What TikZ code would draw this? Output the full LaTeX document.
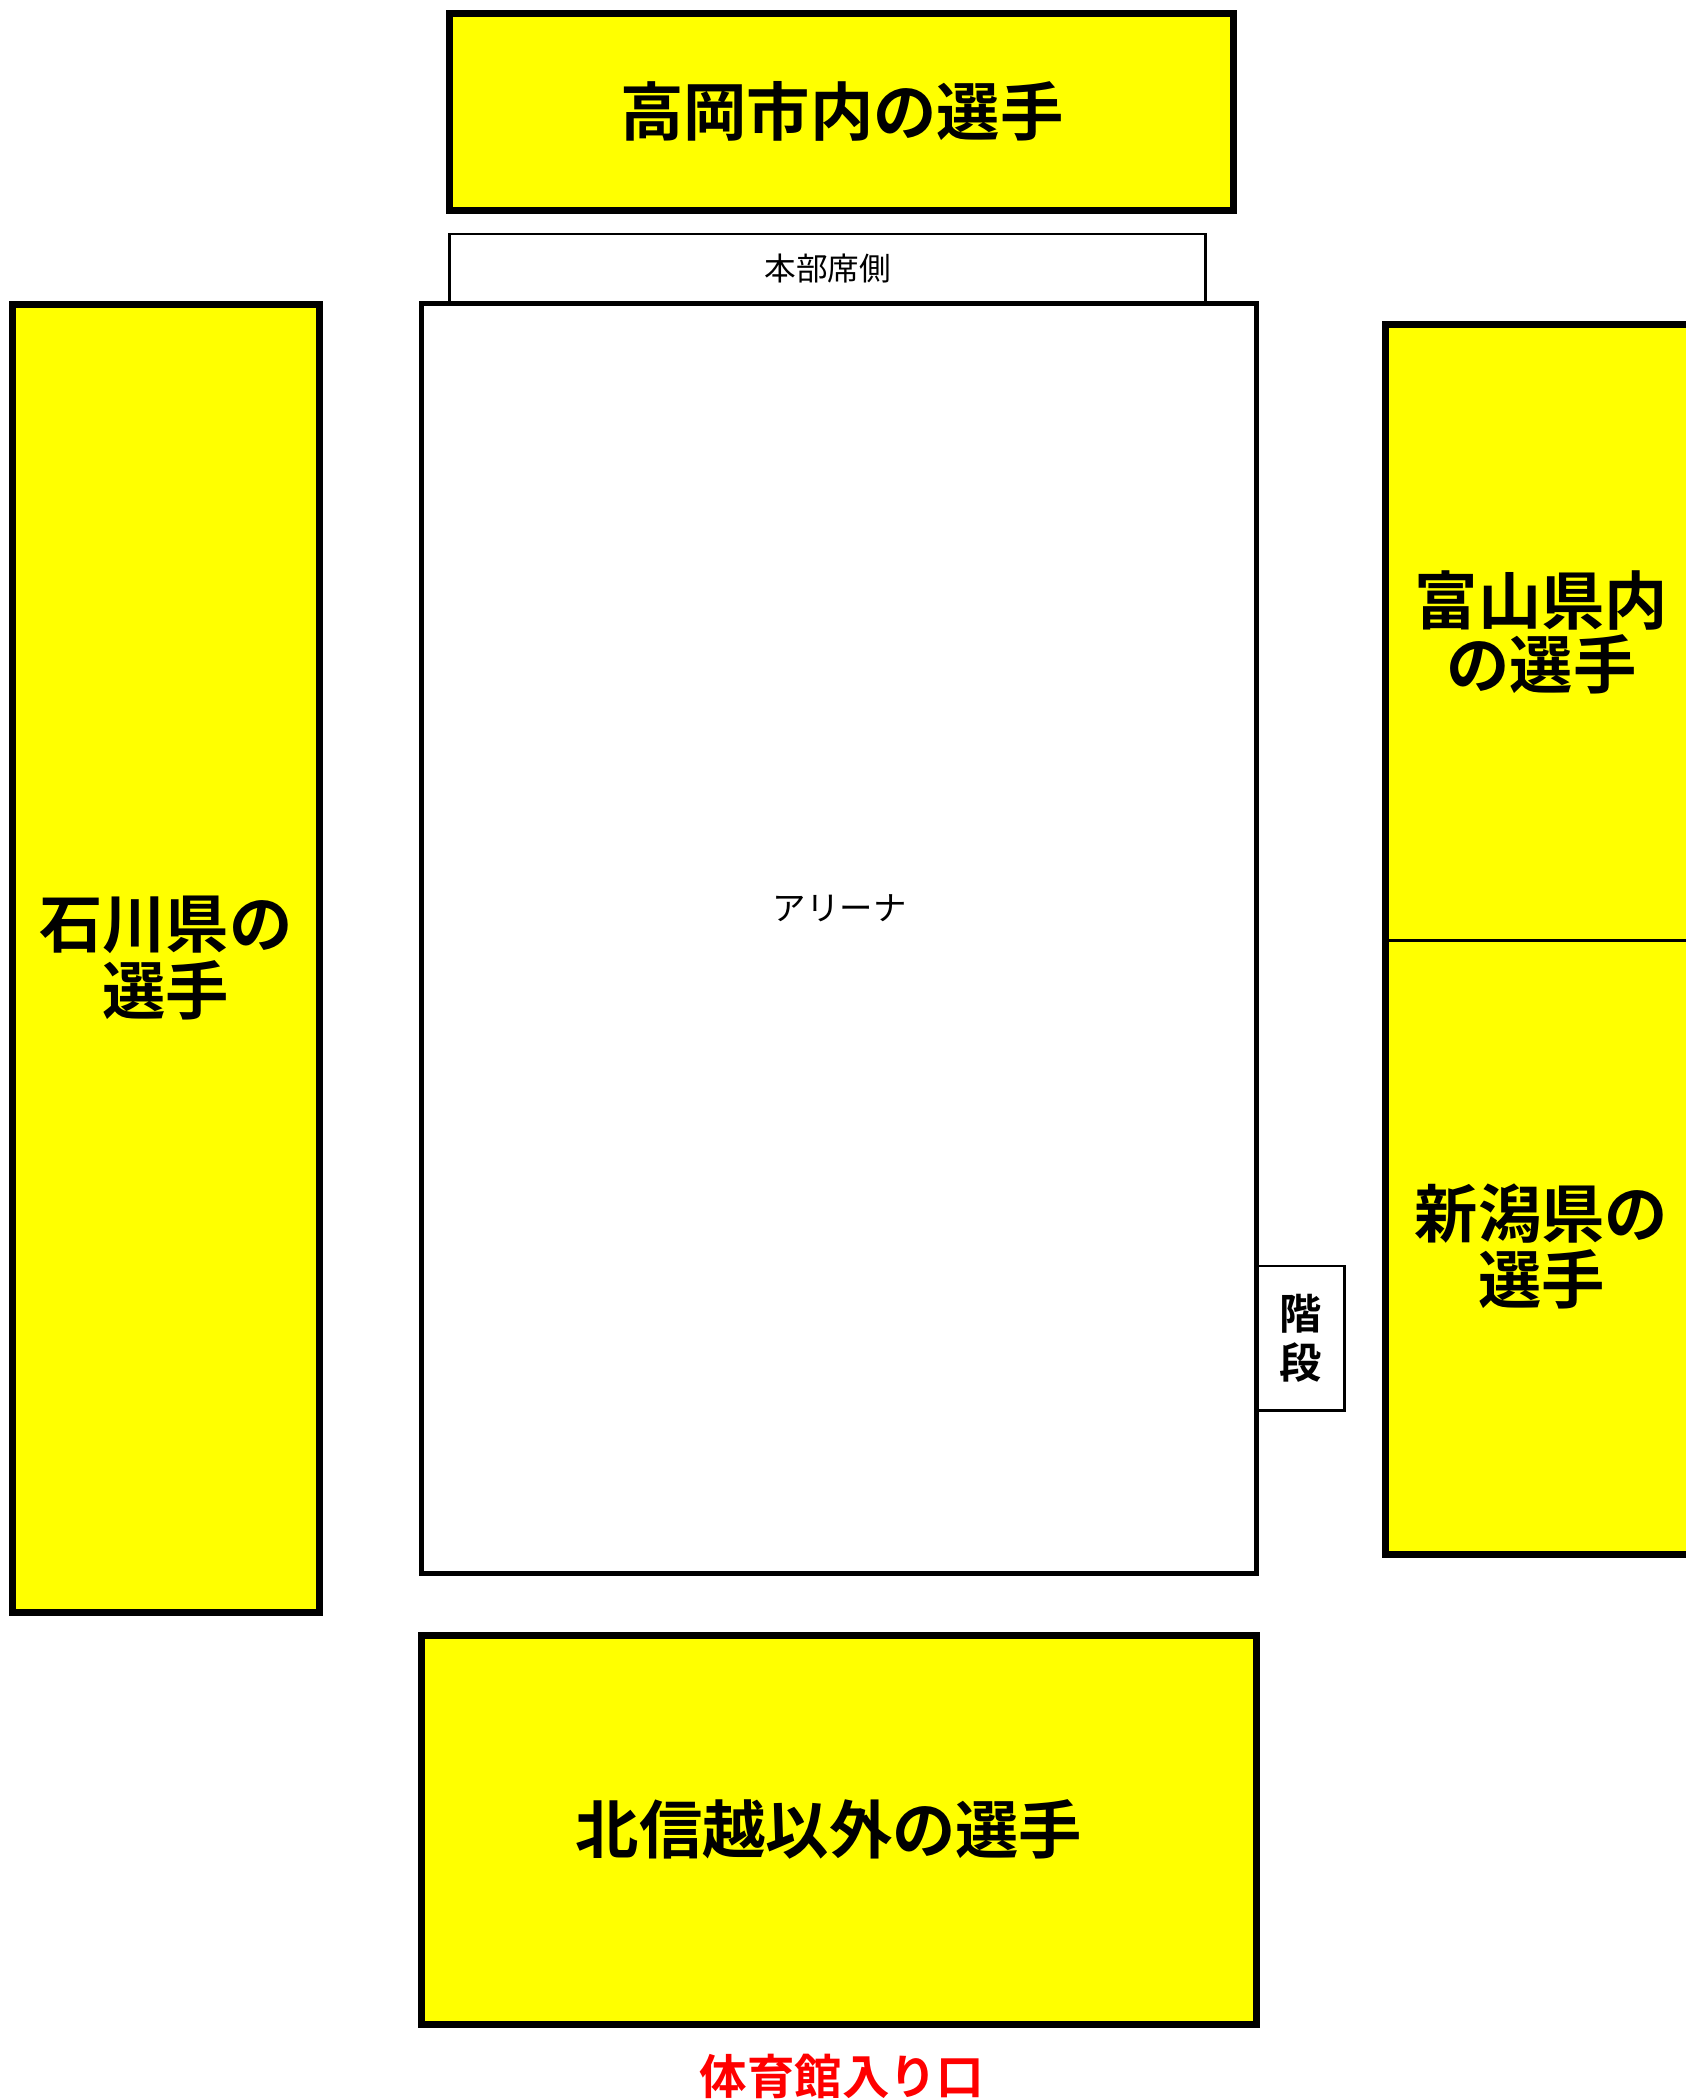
\documentclass[tikz,border=0pt]{standalone}
\usepackage{fontspec}
\newfontfamily\cjk{Noto Sans CJK JP}[BoldFont={Noto Sans CJK JP Bold}]
\definecolor{zoneyellow}{HTML}{FFFF00}
\definecolor{entryred}{HTML}{FF0000}
\tikzset{
  zone/.style={rectangle, draw=black, line width=1.99pt, fill=zoneyellow, inner sep=0pt,
    align=center, font=\cjk\bfseries\fontsize{18}{19}\selectfont},
  zonefill/.style={rectangle, fill=zoneyellow, inner sep=0pt,
    align=center, font=\cjk\bfseries\fontsize{18}{18.4}\selectfont},
  zonelabel/.style={inner sep=0pt, align=center, font=\cjk\bfseries\fontsize{18}{19}\selectfont},
  thinbox/.style={rectangle, draw=black, line width=0.77pt, inner sep=0pt},
  arenabox/.style={rectangle, draw=black, line width=1.42pt, inner sep=0pt},
  stairbox/.style={rectangle, draw=black, line width=0.65pt, inner sep=0pt,
    align=center, font=\cjk\bfseries\fontsize{12}{14}\selectfont},
  smalltext/.style={inner sep=0pt, font=\cjk\fontsize{9}{11}\selectfont},
}
\begin{document}
\begin{tikzpicture}[x=0.01cm, y=-0.01cm]
\useasboundingbox (0,0) rectangle (1686,2100);

% top block
\node[zone, minimum width=7.837cm, minimum height=1.965cm] (takaoka) at (841.9,111.75) {高岡市内の選手};

% headquarters side
\node[thinbox, minimum width=7.553cm, minimum height=0.70cm] (honbu) at (827.7,269) {};
\node[smalltext] (honbulabel) at (827.7,269) {本部席側};

% stairs
\node[stairbox, minimum width=0.885cm, minimum height=1.445cm] (stairs) at (1300.25,1338.25) {階\\段};

% arena
\node[arenabox, minimum width=8.345cm, minimum height=12.69cm] (arena) at (838.75,938.5) {};
\node[smalltext, font=\cjk\fontsize{9.5}{11}\selectfont] (arenalabel) at (839.7,908) {アリーナ};

% left block
\node[zone, minimum width=3.067cm, minimum height=13.075cm] (ishikawa) at (165.9,958.3) {石川県の\\選手};

% right blocks
\node[zonefill, minimum width=3.107cm, minimum height=6.138cm] (toyama) at (1541.5,632.4) {富山県内\\の選手};
\node[zonefill, minimum width=3.107cm, minimum height=6.142cm, font=\cjk\bfseries\fontsize{18}{19}\selectfont] (niigata) at (1541.5,1246.4) {新潟県の\\選手};
\draw[line width=1.99pt] (toyama.north west) rectangle (niigata.south east);
\draw[line width=0.94pt] (toyama.south west) -- (toyama.south east);

% bottom block
\node[zone, minimum width=8.345cm, minimum height=3.888cm] (others) at (838.75,1829.9) {};
\node[zonelabel] (otherslabel) at (829,1829) {北信越以外の選手};

% entrance
\node[inner sep=0pt, text=entryred, font=\cjk\bfseries\fontsize{13.5}{16}\selectfont] (entrance) at (842,2076) {体育館入り口};
\end{tikzpicture}
\end{document}
